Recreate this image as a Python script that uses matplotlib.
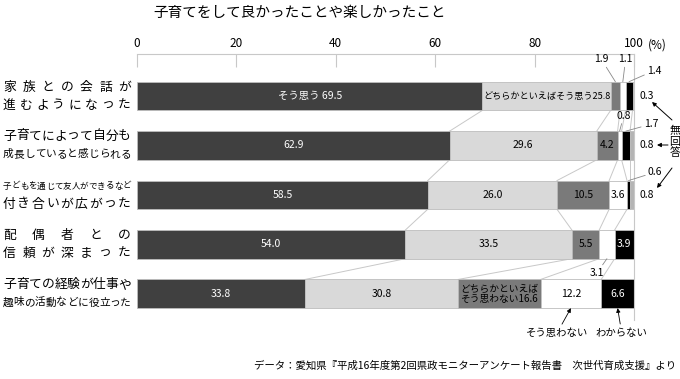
import matplotlib
matplotlib.use("Agg")
import matplotlib.pyplot as plt
import numpy as np

plt.rcParams["font.family"] = ["Noto Sans CJK JP", "DejaVu Sans"]

items = [
    ("家族との会話が", "進むようになった"),
    ("子育てによって自分も", "成長していると感じられる"),
    ("子どもを通じて友人ができるなど", "付き合いが広がった"),
    ("配偶者との", "信頼が深まった"),
    ("子育ての経験が仕事や", "趣味の活動などに役立った"),
]
answers = ["そう思う", "どちらかといえばそう思う", "どちらかといえばそう思わない",
           "そう思わない", "わからない", "無回答"]
values = np.array([
    [69.5, 25.8, 1.9, 1.1, 1.4, 0.3],
    [62.9, 29.6, 4.2, 0.8, 1.7, 0.8],
    [58.5, 26.0, 10.5, 3.6, 0.6, 0.8],
    [54.0, 33.5, 5.5, 3.1, 3.9, 0.0],
    [33.8, 30.8, 16.6, 12.2, 6.6, 0.0],
])
ticks = [0, 20, 40, 60, 80, 100]
colors = ["#404040", "#d9d9d9", "#7a7a7a", "#ffffff", "#000000", "#b4b4b4"]
text_colors = ["white", "black", "black", "black", "white", "black"]

W, H = 680, 379
fig = plt.figure(figsize=(6.8, 3.79), dpi=100)
ax = fig.add_axes([137 / W, 1 - 320 / H, 497 / W, 266 / H])
ax.set_xlim(0, 100)
ax.set_ylim(4.53, -0.85)
ax.xaxis.tick_top()
ax.set_xticks(ticks)
ax.tick_params(axis="x", direction="in", length=9.5, width=0.8, color="#c8c8c8",
               pad=3, labelsize=8.5)
ax.set_yticks([])
for s in ax.spines.values():
    s.set_color("#c8c8c8")
    s.set_linewidth(0.8)
ax.spines["bottom"].set_visible(False)
ax.spines["left"].set_visible(False)

bh = 0.58
ys = np.arange(len(items))
cum = np.cumsum(values, axis=1)
left = cum - values
for j in range(len(answers)):
    ax.barh(ys, values[:, j], left=left[:, j], height=bh, color=colors[j],
            edgecolor="#bdbdbd", linewidth=0.6, zorder=2)

# connector lines between rows
for i in range(len(items) - 1):
    for j in range(len(answers) - 1):
        a, b = cum[i, j], cum[i + 1, j]
        if a >= 99.99 or b >= 99.99:
            continue
        ax.plot([a, b], [i + bh / 2, i + 1 - bh / 2], color="#c8c8c8", lw=0.7, zorder=1)

# labels inside bars
def inside(i, j, txt, size=7.5, **kw):
    x = left[i, j] + values[i, j] / 2
    ax.text(x, i, txt, ha="center", va="center", fontsize=size,
            color=text_colors[j], zorder=3, **kw)

inside(0, 0, f"{answers[0]} {values[0, 0]}")
inside(0, 1, f"{answers[1]}{values[0, 1]}", size=6.6)
for i in range(1, 5):
    inside(i, 0, f"{values[i, 0]}")
    inside(i, 1, f"{values[i, 1]}")
inside(1, 2, f"{values[1, 2]}")
inside(2, 2, f"{values[2, 2]}")
inside(3, 2, f"{values[3, 2]}")
inside(4, 2, f"どちらかといえば\nそう思わない{values[4, 2]}", size=7, linespacing=0.95)
inside(2, 3, f"{values[2, 3]}")
inside(3, 4, f"{values[3, 4]}")
inside(4, 3, f"{values[4, 3]}")
inside(4, 4, f"{values[4, 4]}")

# labels outside with leader lines (offsets in points)
line_kw = dict(arrowprops=dict(arrowstyle="-", color="#888888", lw=0.6, shrinkA=0, shrinkB=0))
def leader(i, j, dx, dy, ha="center"):
    x = left[i, j] + values[i, j] / 2
    ax.annotate(f"{values[i, j]}", xy=(x, i - bh / 2), xytext=(dx, dy),
                textcoords="offset points", ha=ha, va="center", fontsize=7.5,
                annotation_clip=False, **line_kw)

leader(0, 2, -10, 16)
leader(0, 3, 2, 16)
leader(0, 4, 13, 8, ha="left")
leader(1, 3, 3, 11)
leader(1, 4, 13, 5, ha="left")
leader(2, 4, 14, 6, ha="left")
ax.annotate(f"{values[3, 3]}", xy=(left[3, 3] + values[3, 3] / 2, 3 + bh / 2),
            xytext=(-7, -10), textcoords="offset points", ha="center", va="center",
            fontsize=7.5, annotation_clip=False, **line_kw)

# 無回答 labels to the right of the bars
for i in range(3):
    ax.text(101.2, i, f"{values[i, 5]}", ha="left", va="center", fontsize=7.5)

fig.text(675 / W, 1 - 142 / H, "無\n回\n答", ha="center", va="center", fontsize=8,
         linespacing=1.1)
arr = dict(arrowstyle="-|>", color="black", lw=0.7, mutation_scale=6, shrinkA=0, shrinkB=0)
fig.add_artist(matplotlib.patches.FancyArrowPatch((672 / W, 1 - 120 / H), (652 / W, 1 - 102 / H),
                                                  transform=fig.transFigure, **arr))
fig.add_artist(matplotlib.patches.FancyArrowPatch((668 / W, 1 - 145 / H), (657 / W, 1 - 145 / H),
                                                  transform=fig.transFigure, **arr))
fig.add_artist(matplotlib.patches.FancyArrowPatch((672 / W, 1 - 168 / H), (657 / W, 1 - 188 / H),
                                                  transform=fig.transFigure, **arr))

# bottom labels
for j, dx in [(3, -10), (4, 3)]:
    x = left[4, j] + values[4, j] / 2
    ax.annotate(answers[j], xy=(x, 4 + bh / 2), xytext=(dx, -18), textcoords="offset points",
                ha="center", va="center", fontsize=7.5, annotation_clip=False,
                arrowprops=dict(arrowstyle="-|>", color="black", lw=0.6,
                                mutation_scale=6, shrinkA=1, shrinkB=0))

# (%) marker
fig.text(648 / W, 1 - 45 / H, "(%)", ha="left", va="center", fontsize=8.5)

# left labels, justified across the label column
def justified(line, yc, x0=3, x1=131):
    n = len(line)
    cell = min(12.8, (x1 - x0) / n)
    step = (x1 - x0 - cell) / (n - 1) if n > 1 else 0
    for k, ch in enumerate(line):
        xc = x0 + cell / 2 + k * step
        fig.text(xc / W, 1 - yc / H, ch, ha="center", va="center", fontsize=cell * 0.72)

row_px = [96, 145, 195, 244, 293.5]
for (l1, l2), yc in zip(items, row_px):
    justified(l1, yc - 9)
    justified(l2, yc + 9)

fig.text(300 / W, 1 - 13 / H, "子育てをして良かったことや楽しかったこと", ha="center",
         va="center", fontsize=10.5)
fig.text(676 / W, 1 - 366 / H,
         "データ：愛知県『平成16年度第2回県政モニターアンケート報告書　次世代育成支援』より",
         ha="right", va="center", fontsize=7.5)

fig.savefig("out.png", dpi=100)
